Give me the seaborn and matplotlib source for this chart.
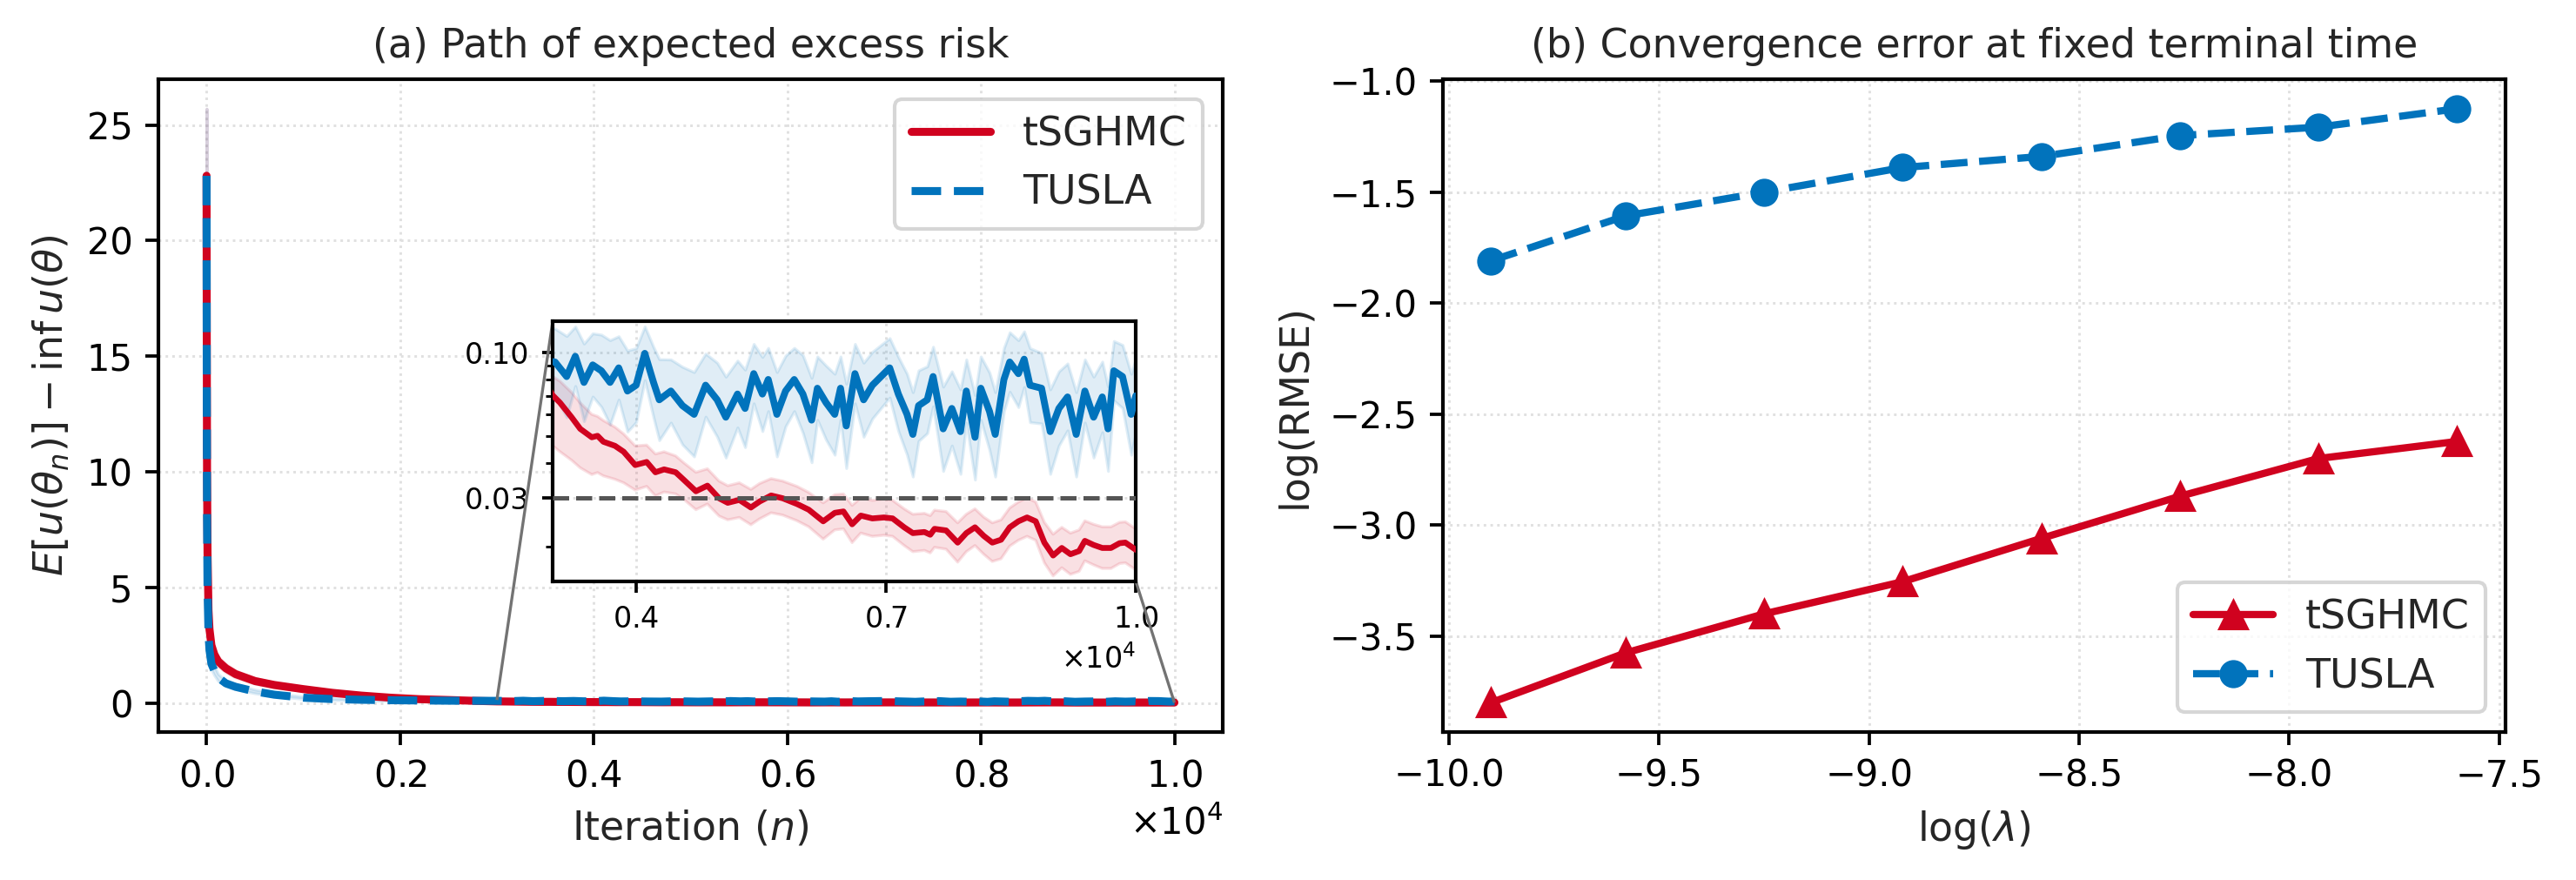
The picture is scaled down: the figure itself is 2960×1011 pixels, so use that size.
import numpy as np
import pandas as pd
import matplotlib
matplotlib.use("Agg")
import matplotlib.pyplot as plt
import seaborn as sns
from matplotlib.ticker import NullFormatter, ScalarFormatter
from mpl_toolkits.axes_grid1.inset_locator import mark_inset

# ---------------- data: panel (a) ----------------
red_n = [0, 2, 5, 10, 20, 30, 50, 80, 120, 200, 300, 500, 700, 1000, 1300, 1600, 1900, 2200, 2500, 2800,
         3000, 3087, 3226, 3330, 3469, 3538, 3608, 3747, 3851, 3990,
         4128, 4233, 4337, 4476, 4580, 4719, 4857, 4997, 5101, 5240,
         5379, 5483, 5622, 5761, 5934, 6073, 6247, 6386, 6490, 6594,
         6698, 6837, 6976, 7080, 7219, 7323, 7462, 7532, 7583, 7722,
         7861, 7965, 8069, 8173, 8277, 8382, 8486, 8590, 8694, 8798,
         8902, 9007, 9111, 9215, 9319, 9388, 9493, 9597, 9701, 9805,
         9874, 10000]
red_val = [22.8, 16, 10, 6.5, 4.0, 3.2, 2.5, 2.1, 1.8, 1.5, 1.25, 0.95, 0.78, 0.6, 0.44, 0.32, 0.23, 0.165, 0.13, 0.09,
           0.0702, 0.0661, 0.0586, 0.0532, 0.0496, 0.0502, 0.0478, 0.0462, 0.0440, 0.0394,
           0.0404, 0.0371, 0.0380, 0.0371, 0.0347, 0.0317, 0.0332, 0.0299, 0.0288, 0.0295,
           0.0277, 0.0291, 0.0306, 0.0299, 0.0285, 0.0272, 0.0247, 0.0265, 0.0268, 0.0241,
           0.0259, 0.0253, 0.0255, 0.0253, 0.0235, 0.0224, 0.0226, 0.0221, 0.0232, 0.0229,
           0.0207, 0.0224, 0.0235, 0.0219, 0.0207, 0.0212, 0.0235, 0.0247, 0.0255, 0.0247,
           0.0207, 0.0186, 0.0198, 0.0188, 0.0193, 0.0210, 0.0203, 0.0198, 0.0198, 0.0206,
           0.0207, 0.0195]
red_hi = [25.7, 17.5, 11, 7.2, 4.5, 3.6, 2.8, 2.35, 2.0, 1.68, 1.4, 1.08, 0.88, 0.68, 0.5, 0.37, 0.27, 0.19, 0.15, 0.105,
          0.0821, 0.0790, 0.0720, 0.0660, 0.0600, 0.0590, 0.0570, 0.0540, 0.0510, 0.0462,
          0.0465, 0.0432, 0.0440, 0.0425, 0.0400, 0.0371, 0.0382, 0.0345, 0.0332, 0.0340,
          0.0322, 0.0338, 0.0352, 0.0345, 0.0330, 0.0314, 0.0288, 0.0308, 0.0310, 0.0282,
          0.0300, 0.0294, 0.0297, 0.0294, 0.0274, 0.0262, 0.0264, 0.0259, 0.0271, 0.0268,
          0.0244, 0.0262, 0.0274, 0.0256, 0.0244, 0.0250, 0.0276, 0.0290, 0.0300, 0.0290,
          0.0245, 0.0222, 0.0235, 0.0224, 0.0230, 0.0248, 0.0241, 0.0236, 0.0236, 0.0245,
          0.0246, 0.0232]
red_lo = [20.0, 14.5, 9.0, 5.8, 3.5, 2.8, 2.2, 1.85, 1.6, 1.32, 1.1, 0.83, 0.68, 0.52, 0.38, 0.27, 0.19, 0.14, 0.11, 0.055,
          0.0462, 0.0440, 0.0410, 0.0385, 0.0364, 0.0370, 0.0360, 0.0350, 0.0340, 0.0320,
          0.0330, 0.0305, 0.0315, 0.0310, 0.0295, 0.0272, 0.0285, 0.0258, 0.0250, 0.0255,
          0.0240, 0.0252, 0.0265, 0.0260, 0.0248, 0.0236, 0.0213, 0.0230, 0.0232, 0.0207,
          0.0224, 0.0218, 0.0220, 0.0218, 0.0202, 0.0192, 0.0194, 0.0190, 0.0199, 0.0196,
          0.0176, 0.0192, 0.0202, 0.0188, 0.0177, 0.0181, 0.0201, 0.0211, 0.0218, 0.0211,
          0.0175, 0.0157, 0.0168, 0.0159, 0.0163, 0.0178, 0.0172, 0.0167, 0.0167, 0.0174,
          0.0175, 0.0165]

blue_n = [0, 2, 5, 10, 20, 30, 50, 80, 120, 200, 300, 500, 700, 1000, 1300, 1600, 1900, 2200, 2500, 2800,
          3028, 3167, 3271, 3375, 3480, 3584, 3688, 3792, 3897, 4001,
          4105, 4210, 4279, 4418, 4557, 4697, 4835, 4974, 5078, 5218,
          5309, 5413, 5517, 5587, 5691, 5795, 5899, 6003, 6108, 6177,
          6281, 6385, 6455, 6524, 6628, 6732, 6837, 6941, 7045, 7149,
          7253, 7323, 7392, 7496, 7566, 7687, 7791, 7895, 7965, 8069,
          8139, 8243, 8312, 8416, 8486, 8590, 8659, 8729, 8868, 8972,
          9076, 9180, 9284, 9388, 9493, 9597, 9666, 9736, 9840, 9944,
          10000]
blue_val = [22.8, 14, 8, 5, 3.0, 2.3, 1.7, 1.4, 1.1, 0.85, 0.7, 0.5, 0.36, 0.23, 0.17, 0.14, 0.12, 0.11, 0.1, 0.095,
            0.0926, 0.0821, 0.0971, 0.0782, 0.0904, 0.0861, 0.0782, 0.0882, 0.0728, 0.0764,
            0.0995, 0.0782, 0.0677, 0.0728, 0.0645, 0.0600, 0.0764, 0.0677, 0.0586, 0.0710,
            0.0630, 0.0841, 0.0710, 0.0801, 0.0600, 0.0728, 0.0801, 0.0710, 0.0572, 0.0745,
            0.0661, 0.0600, 0.0745, 0.0545, 0.0841, 0.0677, 0.0764, 0.0821, 0.0882, 0.0710,
            0.0600, 0.0508, 0.0645, 0.0677, 0.0821, 0.0532, 0.0630, 0.0520, 0.0728, 0.0496,
            0.0745, 0.0615, 0.0508, 0.0801, 0.0926, 0.0841, 0.0948, 0.0764, 0.0745, 0.0520,
            0.0630, 0.0693, 0.0508, 0.0728, 0.0586, 0.0693, 0.0532, 0.0861, 0.0821, 0.0600,
            0.0700]
blue_hi = [25.7, 15.5, 9, 5.6, 3.4, 2.6, 1.95, 1.6, 1.25, 0.97, 0.8, 0.58, 0.42, 0.28, 0.21, 0.18, 0.155, 0.145, 0.13, 0.125,
           0.1222, 0.1149, 0.1243, 0.1079, 0.1175, 0.1162, 0.1110, 0.1147, 0.1019, 0.1039,
           0.1244, 0.1048, 0.0948, 0.0946, 0.0890, 0.0852, 0.0993, 0.0921, 0.0820, 0.0937,
           0.0869, 0.1076, 0.0966, 0.1041, 0.0852, 0.0976, 0.1041, 0.0980, 0.0812, 0.0969,
           0.0899, 0.0840, 0.0969, 0.0774, 0.1076, 0.0921, 0.1008, 0.1067, 0.1129, 0.0966,
           0.0840, 0.0721, 0.0864, 0.0894, 0.1051, 0.0755, 0.0857, 0.0738, 0.0946, 0.0704,
           0.0969, 0.0849, 0.0721, 0.1041, 0.1185, 0.1110, 0.1194, 0.1039, 0.0998, 0.0738,
           0.0857, 0.0915, 0.0721, 0.0946, 0.0820, 0.0929, 0.0755, 0.1102, 0.1067, 0.0840,
           0.0952]
blue_lo = [20.0, 12.5, 7, 4.4, 2.6, 2.0, 1.45, 1.2, 0.95, 0.73, 0.6, 0.42, 0.3, 0.18, 0.13, 0.105, 0.09, 0.08, 0.075, 0.07,
           0.0702, 0.0586, 0.0759, 0.0567, 0.0695, 0.0638, 0.0551, 0.0678, 0.0520, 0.0562,
           0.0796, 0.0584, 0.0484, 0.0560, 0.0467, 0.0423, 0.0588, 0.0498, 0.0419, 0.0538,
           0.0457, 0.0657, 0.0522, 0.0616, 0.0423, 0.0543, 0.0616, 0.0514, 0.0403, 0.0573,
           0.0486, 0.0429, 0.0573, 0.0384, 0.0657, 0.0498, 0.0579, 0.0632, 0.0689, 0.0522,
           0.0429, 0.0358, 0.0481, 0.0513, 0.0641, 0.0375, 0.0463, 0.0366, 0.0560, 0.0349,
           0.0573, 0.0446, 0.0358, 0.0616, 0.0723, 0.0637, 0.0752, 0.0562, 0.0556, 0.0366,
           0.0463, 0.0525, 0.0358, 0.0560, 0.0419, 0.0517, 0.0375, 0.0673, 0.0632, 0.0429,
           0.0515]

threshold = 0.03

# ---------------- data: panel (b) ----------------
log_lambda = [-9.90, -9.58, -9.25, -8.92, -8.59, -8.26, -7.93, -7.60]
tsghmc_rmse = [-3.80, -3.576, -3.40, -3.255, -3.06, -2.87, -2.70, -2.623]
tusla_rmse = [-1.809, -1.607, -1.50, -1.389, -1.339, -1.245, -1.207, -1.124]

RED = "#D0021F"
BLUE = "#0173BC"

sns.set_theme(style="ticks")
plt.rcParams["font.family"] = ["DejaVu Sans"]
plt.rcParams.update({
    "axes.edgecolor": "black",
    "axes.linewidth": 1.0,
    "xtick.color": "black",
    "ytick.color": "black",
    "xtick.major.size": 3.5,
    "ytick.major.size": 3.5,
    "xtick.major.width": 0.9,
    "ytick.major.width": 0.9,
    "xtick.minor.size": 2,
    "ytick.minor.size": 2,
    "xtick.minor.width": 0.7,
    "ytick.minor.width": 0.7,
    "xtick.labelsize": 10,
    "ytick.labelsize": 10,
    "axes.labelsize": 11,
    "axes.titlesize": 11,
    "legend.fontsize": 11,
    "mathtext.fontset": "dejavusans",
})

df_red = pd.DataFrame({"n": red_n, "v": red_val, "lo": red_lo, "hi": red_hi})
df_blue = pd.DataFrame({"n": blue_n, "v": blue_val, "lo": blue_lo, "hi": blue_hi})

fig = plt.figure(figsize=(2960 / 300, 1011 / 300), dpi=300)
ax = fig.add_axes([0.0614, 0.1678, 0.4133, 0.7424])
ax2 = fig.add_axes([0.5601, 0.1678, 0.4125, 0.7424])

grid_kw = dict(ls=":", lw=0.7, color="#e0e0e0")

# ---------- panel (a) ----------
ax.fill_between(df_red["n"], df_red["lo"], df_red["hi"], color=RED, alpha=0.13, lw=0.8, zorder=1)
ax.fill_between(df_blue["n"], df_blue["lo"], df_blue["hi"], color=BLUE, alpha=0.13, lw=0.8, zorder=1)
sns.lineplot(data=df_red, x="n", y="v", ax=ax, color=RED, lw=2.2, label="tSGHMC", zorder=3)
sns.lineplot(data=df_blue, x="n", y="v", ax=ax, color=BLUE, lw=2.2, ls="--", label="TUSLA", zorder=4)
ax.set_title("(a) Path of expected excess risk")
ax.set_xlabel("Iteration ($n$)")
ax.set_ylabel(r"$E[u(\theta_n)]-\inf u(\theta)$")
ax.grid(True, **grid_kw)
ax.ticklabel_format(style="sci", axis="x", scilimits=(0, 0), useMathText=True)
ax.legend(loc="upper right", frameon=True, fancybox=True)

# inset
axins = ax.inset_axes([0.3706, 0.231, 0.5477, 0.3984])
axins.fill_between(df_red["n"], df_red["lo"], df_red["hi"], color=RED, alpha=0.12, lw=0.8, zorder=1)
axins.fill_between(df_blue["n"], df_blue["lo"], df_blue["hi"], color=BLUE, alpha=0.12, lw=0.8, zorder=1)
sns.lineplot(data=df_red, x="n", y="v", ax=axins, color=RED, lw=1.6, legend=False, zorder=3)
sns.lineplot(data=df_blue, x="n", y="v", ax=axins, color=BLUE, lw=1.9, legend=False, zorder=4)
axins.axhline(threshold, color="#555555", ls="--", lw=1.2, zorder=5)
axins.set_yscale("log")
axins.set_xlim(3000, 10000)
axins.set_ylim(0.015, 0.13)
axins.set_yticks([0.03, 0.10])
axins.set_yticklabels(["0.03", "0.10"])
axins.yaxis.set_minor_formatter(NullFormatter())
axins.set_xticks([4000, 7000, 10000])
fmt = ScalarFormatter(useMathText=True)
fmt.set_powerlimits((0, 0))
axins.xaxis.set_major_formatter(fmt)
axins.tick_params(labelsize=8, length=3)
axins.tick_params(which="minor", length=2)
axins.xaxis.get_offset_text().set_fontsize(8)
axins.set_xlabel("")
axins.set_ylabel("")
axins.grid(True, **grid_kw)
mark_inset(ax, axins, loc1=2, loc2=4, fc="none", ec="0.45", lw=0.8)

# ---------- panel (b) ----------
df_b = pd.DataFrame({"x": log_lambda, "t": tsghmc_rmse, "u": tusla_rmse})
sns.lineplot(data=df_b, x="x", y="t", ax=ax2, color=RED, lw=2, marker="^", ms=7.5,
             markeredgecolor=RED, label="tSGHMC")
sns.lineplot(data=df_b, x="x", y="u", ax=ax2, color=BLUE, lw=2, ls="--", marker="o", ms=7,
             markeredgecolor=BLUE, label="TUSLA")
ax2.set_title("(b) Convergence error at fixed terminal time")
ax2.set_xlabel(r"$\log(\lambda)$")
ax2.set_ylabel("log(RMSE)")
ax2.grid(True, **grid_kw)
ax2.legend(loc="lower right", frameon=True, fancybox=True)

fig.savefig("out.png", dpi=300)
